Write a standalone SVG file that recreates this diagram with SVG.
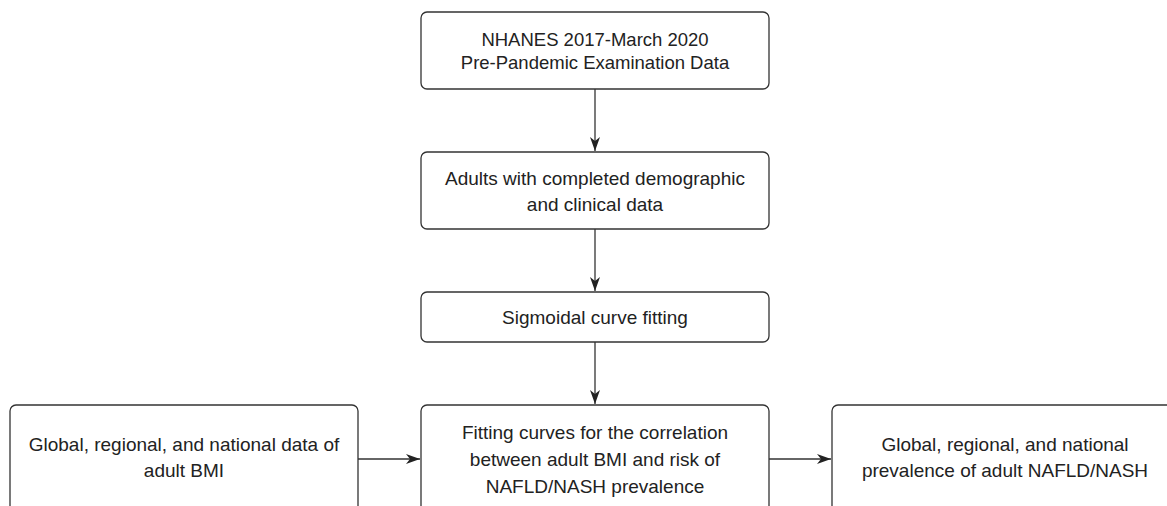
<svg xmlns="http://www.w3.org/2000/svg" width="1167" height="506" viewBox="0 0 1167 506">
<style>
.box{fill:#fff;stroke:#333;stroke-width:1.3}
.t{font-family:"Liberation Sans",Arial,sans-serif;font-size:19px;fill:#222;text-anchor:middle}
.t1{font-size:18.5px}
.c{stroke:#333;stroke-width:1.3;fill:none}
</style>
<defs>
<marker id="ah" markerWidth="16" markerHeight="11" refX="14" refY="5.5" orient="auto" markerUnits="userSpaceOnUse">
<path d="M0,0.5 L14,5.5 L0,10.5 L4,5.5 Z" fill="#222"/>
</marker>
</defs>
<rect width="1167" height="506" fill="#fff"/>
<g id="connectors">
<line class="c" x1="595" y1="89" x2="595" y2="151" marker-end="url(#ah)"/>
<line class="c" x1="595" y1="229" x2="595" y2="291" marker-end="url(#ah)"/>
<line class="c" x1="595" y1="342" x2="595" y2="404" marker-end="url(#ah)"/>
<line class="c" x1="358" y1="459" x2="420" y2="459" marker-end="url(#ah)"/>
<line class="c" x1="769" y1="459" x2="831" y2="459" marker-end="url(#ah)"/>
</g>
<g id="n1">
<rect class="box" x="421" y="12" width="348" height="77" rx="6"/>
<text class="t t1" x="595" y="46">NHANES 2017-March 2020</text>
<text class="t t1" x="595" y="69">Pre-Pandemic Examination Data</text>
</g>
<g id="n2">
<rect class="box" x="421" y="152" width="348" height="77" rx="6"/>
<text class="t" x="595" y="185">Adults with completed demographic</text>
<text class="t" x="595" y="211">and clinical data</text>
</g>
<g id="n3">
<rect class="box" x="421" y="292" width="348" height="50" rx="6"/>
<text class="t" x="595" y="324">Sigmoidal curve fitting</text>
</g>
<g id="n4">
<rect class="box" x="421" y="405" width="348" height="120" rx="6"/>
<text class="t" x="595" y="439">Fitting curves for the correlation</text>
<text class="t" x="595" y="466">between adult BMI and risk of</text>
<text class="t" x="595" y="493">NAFLD/NASH prevalence</text>
</g>
<g id="n5">
<rect class="box" x="10" y="405" width="348" height="120" rx="6"/>
<text class="t" x="184" y="451">Global, regional, and national data of</text>
<text class="t" x="184" y="477">adult BMI</text>
</g>
<g id="n6">
<rect class="box" x="832" y="405" width="346" height="120" rx="6"/>
<text class="t" x="1005" y="451">Global, regional, and national</text>
<text class="t" x="1005" y="477">prevalence of adult NAFLD/NASH</text>
</g>
</svg>
